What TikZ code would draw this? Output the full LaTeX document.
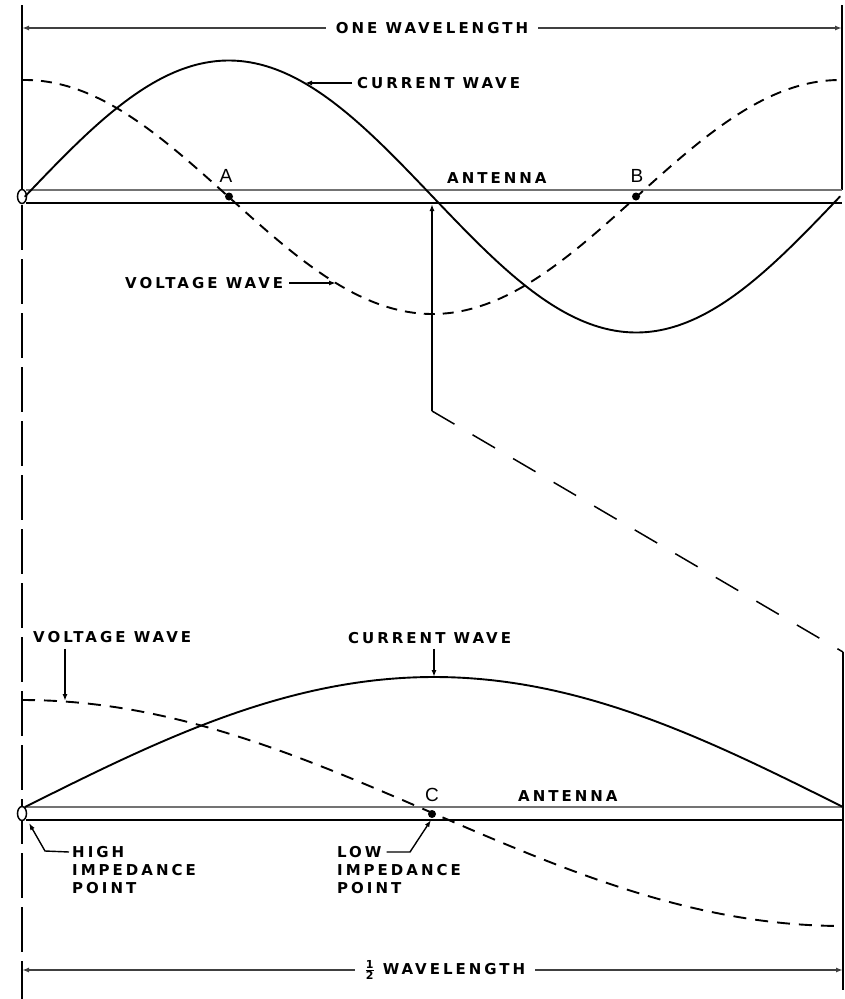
\documentclass[tikz,border=0pt]{standalone}
\usepackage{fontspec}
\newfontfamily\lblfont[LetterSpace=20]{DejaVu Sans}
\newfontfamily\ltrfont{Liberation Sans}
\usetikzlibrary{arrows.meta}
\begin{document}
\begin{tikzpicture}[x=1pt,y=-1pt,
  lbl/.style={font=\lblfont\bfseries\fontsize{15}{17}\selectfont, inner sep=0pt},
  ltr/.style={font=\ltrfont\fontsize{19}{19}\selectfont, inner sep=0pt},
  curve/.style={line width=1.9pt, line cap=round},
  vdash/.style={line width=1.9pt, dash pattern=on 11pt off 8pt},
  arr/.style={-{Latex[length=7pt,width=5pt]}, line width=1.4pt},
  dim/.style={line width=1.5pt, draw=black!75, -{Latex[length=7pt,width=5pt]}},
  ext/.style={line width=1.7pt},
  dot/.style={circle, fill=black, inner sep=0pt, minimum size=8pt},
  antlo/.style={line width=1.9pt},
  anthi/.style={line width=1.7pt, draw=black!55}
]
\useasboundingbox (0,0) rectangle (844,999);
\fill[white] (0,0) rectangle (844,999);

% ---------- extension lines ----------
\coordinate (L0) at (22,5);
\coordinate (L1) at (22,189);
\coordinate (L2) at (22,205);
\coordinate (L3) at (22,999);
\coordinate (R0) at (842,5);
\coordinate (R1) at (842,190);
\draw[ext] (L0) -- (L1);
\draw[ext, dash pattern=on 45pt off 9pt] (L2) -- (L3);
\draw[ext] (R0) -- (R1);

% ---------- one wavelength dimension ----------
\node[lbl, inner xsep=10pt] (owl) at (432,28) {ONE WAVELENGTH};
\coordinate (owlL) at (22,28);
\coordinate (owlR) at (842,28);
\draw[dim] (owl.west) -- (owlL);
\draw[dim] (owl.east) -- (owlR);

% ---------- top antenna ----------
\draw[anthi] (26,190) -- (842,190);
\draw[antlo] (26,203) -- (842,203);
\draw[line width=1.5pt, fill=white] (22,196.5) ellipse [x radius=4.5pt, y radius=7pt];

% ---------- top waves ----------
\draw[curve] plot[domain=25:840, samples=160, smooth] (\x, {196.5-136*sin(0.441718*(\x-25))});
\draw[vdash] plot[domain=22:840, samples=160, smooth] (\x, {197-117*cos(0.441718*(\x-25))});

% A, B
\node[dot] (Adot) at (229,196.5) {};
\node[dot] (Bdot) at (636,196.5) {};
\node[ltr] (A) at (226,176) {A};
\node[ltr] (B) at (637,176) {B};
\node[lbl, anchor=west] (ant1) at (447,178) {ANTENNA};

% current wave label (top)
\node[lbl, anchor=west] (cw1) at (357,83) {CURRENT WAVE};
\coordinate (cw1t) at (305,83);
\draw[arr] ([xshift=-5pt]cw1.west) -- (cw1t);

% voltage wave label (top)
\node[lbl, anchor=west] (vw1) at (125,283) {VOLTAGE WAVE};
\coordinate (vw1t) at (336,283);
\draw[arr] ([xshift=6pt]vw1.east) -- (vw1t);

% projection from midpoint
\coordinate (m0) at (432,204);
\coordinate (m1) at (432,411);
\coordinate (m2) at (843,652);
\coordinate (m3) at (843,990);
\draw[arr] (m1) -- (m0);
\draw[line width=1.5pt, dash pattern=on 26pt off 21pt] (m1) -- (m2);
\draw[ext] (m2) -- (m3);

% ---------- bottom antenna ----------
\draw[anthi] (26,807) -- (843,807);
\draw[antlo] (26,820) -- (843,820);
\draw[line width=1.5pt, fill=white] (22,813.5) ellipse [x radius=4.5pt, y radius=7pt];

% ---------- bottom waves ----------
\draw[curve] plot[domain=25:843, samples=120, smooth] (\x, {807-130*sin(0.220049*(\x-25))});
\draw[line width=1.9pt, dash pattern=on 13pt off 9pt] plot[domain=22:843, samples=120, smooth] (\x, {813-113*cos(0.219245*(\x-22))});

\node[dot] (Cdot) at (432,814) {};
\node[ltr] (C) at (432,795) {C};
\node[lbl, anchor=west] (ant2) at (518,796) {ANTENNA};

% voltage wave label (bottom)
\node[lbl, anchor=west] (vw2) at (33,637) {VOLTAGE WAVE};
\coordinate (vw2t) at (65,701);
\draw[arr] ([yshift=-6pt]vw2.south -| vw2t) -- (vw2t);

% current wave label (bottom)
\node[lbl, anchor=west] (cw2) at (348,638) {CURRENT WAVE};
\coordinate (cw2t) at (434,677);
\draw[arr] ([yshift=-5pt]cw2.south -| cw2t) -- (cw2t);

% high impedance point
\node[lbl, anchor=west] (hi1) at (72,852) {HIGH};
\node[lbl, anchor=west] (hi2) at (72,870) {IMPEDANCE};
\node[lbl, anchor=west] (hi3) at (72,888) {POINT};
\coordinate (hib) at (45,851);
\coordinate (hit) at (29,823);
\draw[arr] ([xshift=-3pt]hi1.west) -- (hib) -- (hit);

% low impedance point
\node[lbl, anchor=west] (lo1) at (337,852) {LOW};
\node[lbl, anchor=west] (lo2) at (337,870) {IMPEDANCE};
\node[lbl, anchor=west] (lo3) at (337,888) {POINT};
\coordinate (lob) at (410,852);
\coordinate (lot) at (431,820);
\draw[arr] ([xshift=5pt]lo1.east) -- (lob) -- (lot);

% ---------- half wavelength dimension ----------
\node[lbl, inner xsep=10pt] (hwl) at (445,970) {$\frac{\hbox{\lblfont\bfseries\fontsize{11}{11}\selectfont 1}}{\hbox{\lblfont\bfseries\fontsize{11}{11}\selectfont 2}}$\hspace{8pt}WAVELENGTH};
\coordinate (hwlL) at (22,970);
\coordinate (hwlR) at (843,970);
\draw[dim] (hwl.west) -- (hwlL);
\draw[dim] (hwl.east) -- (hwlR);
\end{tikzpicture}
\end{document}
